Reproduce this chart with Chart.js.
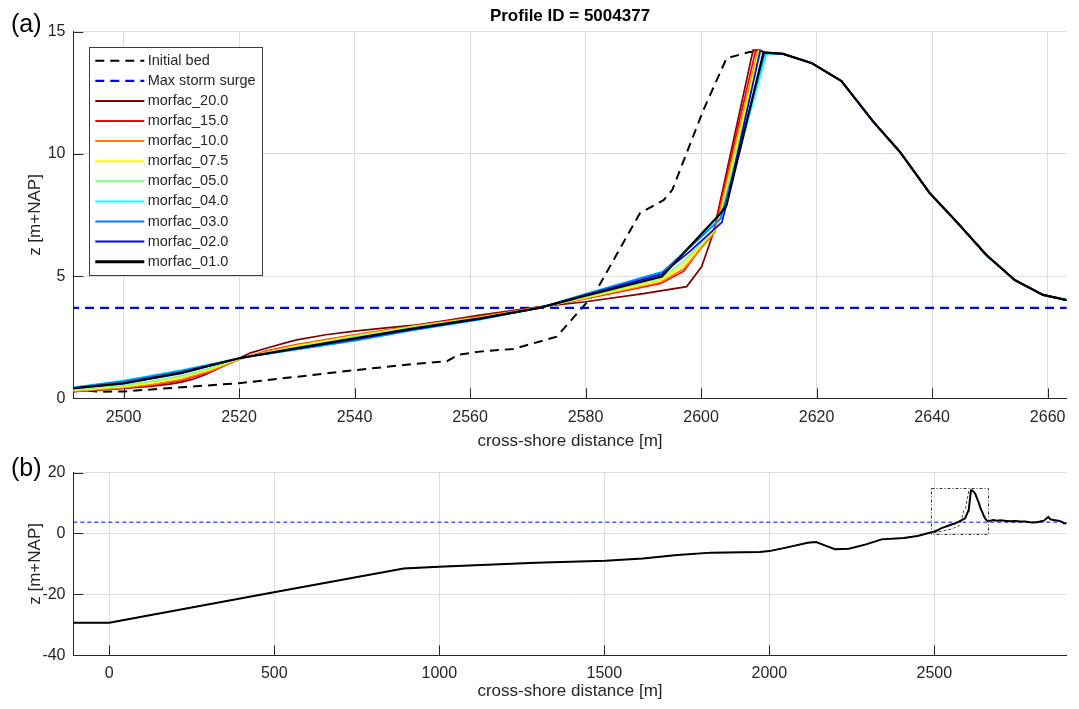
<!DOCTYPE html>
<html><head><meta charset="utf-8">
<script src="https://cdn.jsdelivr.net/npm/chart.js@4.4.1/dist/chart.umd.min.js"></script>
<style>
html,body{margin:0;padding:0;background:#fff;}
#wrap{position:relative;width:1079px;height:709px;overflow:hidden;background:#fff;}
#ca{position:absolute;left:0;top:0;}
#cb{position:absolute;left:0;top:455px;}
</style></head><body>
<div id="wrap"><canvas id="ca" width="1079" height="455"></canvas><canvas id="cb" width="1079" height="254"></canvas></div>
<script>
// ---------- text ----------
const titleText = 'Profile ID = 5004377';
const xTitle = 'cross-shore distance [m]';
const yTitle = 'z [m+NAP]';
const panelLabels = ['(a)', '(b)'];

// ---------- axes ----------
const xRangeA = [2491.3, 2663.3];
const yRangeA = [0, 15];
const xRangeB = [-109, 2901];
const yRangeB = [-40, 20];
const xTicksA = [2500, 2520, 2540, 2560, 2580, 2600, 2620, 2640, 2660];
const yTicksA = [0, 5, 10, 15];
const xTicksB = [0, 500, 1000, 1500, 2000, 2500];
const yTicksB = [-40, -20, 0, 20];

// ---------- series ----------
const seriesNames = ['morfac_20.0','morfac_15.0','morfac_10.0','morfac_07.5','morfac_05.0','morfac_04.0','morfac_03.0','morfac_02.0','morfac_01.0'];
const seriesColors = ['#800000','#ff0000','#ff8000','#ffff00','#80ff80','#00ffff','#0080ff','#0000ff','#000000'];

const stormSurge = 3.7;
const surgeX = [-109, 2901];

// initial bed (dune section)
const initX = [2491.3, 2496, 2500, 2510, 2520, 2530, 2540, 2550, 2556, 2558, 2561.7, 2567.5, 2575, 2581.6, 2589.4, 2593.5, 2595, 2600.4, 2604.4, 2608.5, 2611];
const initZ = [0.36, 0.27, 0.28, 0.45, 0.62, 0.88, 1.15, 1.40, 1.52, 1.78, 1.91, 2.02, 2.52, 4.3, 7.57, 8.11, 8.52, 11.8, 13.91, 14.18, 14.15];

// landward (lee) side of the dune, unchanged
const leeX = [2614.2, 2619.2, 2624.3, 2629.8, 2634.4, 2639.6, 2644.2, 2649.4, 2654.3, 2659.2, 2663.3];
const leeZ = [14.09, 13.71, 12.98, 11.32, 10.09, 8.39, 7.23, 5.86, 4.84, 4.23, 4.02];

// final beds per morfac (seaward side up to the crest)
const m20X = [2491.3, 2500, 2505, 2508, 2510, 2512, 2514, 2516, 2518, 2520, 2522, 2525, 2528, 2530, 2535, 2540, 2545, 2550, 2555, 2561.7, 2572, 2580, 2590, 2597.5, 2600.1, 2602.1, 2609.0, 2610.2, 2611];
const m20Z = [0.27, 0.40, 0.50, 0.58, 0.66, 0.78, 0.95, 1.18, 1.42, 1.64, 1.86, 2.07, 2.27, 2.39, 2.60, 2.75, 2.87, 2.98, 3.15, 3.40, 3.74, 3.95, 4.28, 4.57, 5.39, 6.75, 14.25, 14.25, 14.15];
const m15X = [2491.3, 2500, 2505, 2510, 2515, 2520, 2525, 2530, 2540, 2550, 2561.7, 2572, 2580, 2593, 2597, 2602.3, 2609.4, 2610.8];
const m15Z = [0.28, 0.42, 0.54, 0.72, 1.08, 1.60, 1.95, 2.20, 2.60, 2.95, 3.35, 3.72, 4.08, 4.70, 5.20, 6.90, 14.2, 14.15];
const m10X = [2491.3, 2500, 2505, 2510, 2515, 2520, 2525, 2530, 2540, 2550, 2561.7, 2572, 2580, 2593, 2597, 2602.4, 2609.8, 2611];
const m10Z = [0.29, 0.44, 0.57, 0.77, 1.12, 1.60, 1.93, 2.18, 2.59, 2.94, 3.33, 3.72, 4.10, 4.75, 5.30, 6.80, 14.2, 14.15];
const m075X = [2491.3, 2500, 2505, 2510, 2515, 2520, 2530, 2540, 2550, 2561.7, 2572, 2580, 2593, 2597, 2602.8, 2610.0, 2611];
const m075Z = [0.32, 0.48, 0.63, 0.85, 1.18, 1.62, 2.15, 2.55, 2.92, 3.30, 3.71, 4.12, 4.82, 5.45, 7.00, 14.2, 14.15];
const m05X = [2491.3, 2500, 2505, 2510, 2515, 2520, 2530, 2540, 2550, 2561.7, 2572, 2580, 2593, 2597, 2603, 2610.3, 2611];
const m05Z = [0.35, 0.53, 0.70, 0.92, 1.24, 1.63, 2.10, 2.52, 2.90, 3.29, 3.70, 4.15, 4.90, 5.60, 7.10, 14.15, 14.15];
const m04X = [2491.3, 2500, 2510, 2520, 2530, 2540, 2550, 2561.7, 2572, 2580, 2593.5, 2598, 2603.5, 2611.3];
const m04Z = [0.45, 0.72, 1.15, 1.64, 2.00, 2.36, 2.78, 3.22, 3.70, 4.28, 5.20, 6.20, 7.40, 14.1];
const m03X = [2491.3, 2500, 2510, 2520, 2530, 2540, 2550, 2561.7, 2572, 2580, 2593.3, 2598, 2603.4, 2611.0];
const m03Z = [0.44, 0.70, 1.12, 1.64, 2.00, 2.36, 2.79, 3.23, 3.70, 4.27, 5.17, 6.15, 7.35, 14.12];
const m02X = [2491.3, 2500, 2510, 2520, 2530, 2540, 2550, 2561.7, 2572, 2580, 2593.2, 2598, 2603.6, 2604.3, 2610.2, 2610.6, 2611];
const m02Z = [0.40, 0.60, 1.02, 1.64, 2.03, 2.42, 2.82, 3.25, 3.70, 4.22, 5.08, 6.00, 7.20, 7.85, 14.2, 14.2, 14.15];
const m01X = [2491.3, 2500, 2510, 2520, 2530, 2540, 2550, 2561.7, 2572, 2580, 2593.2, 2603.3, 2604.4, 2610.8];
const m01Z = [0.41, 0.62, 1.05, 1.64, 2.05, 2.45, 2.85, 3.27, 3.70, 4.20, 4.98, 7.55, 7.90, 14.15];

// full profile: offshore part and back-dune part (panel b)
const offX = [-109, 0, 499, 892, 999, 1293, 1503, 1617, 1721, 1825, 1971, 2000, 2054, 2116, 2142, 2168, 2199, 2241, 2293, 2340, 2407, 2449];
const offZ = [-29.3, -29.3, -19.3, -11.5, -10.9, -9.6, -8.95, -8.2, -7.1, -6.3, -6.1, -5.8, -4.57, -3.05, -2.84, -3.9, -5.2, -5.0, -3.6, -1.95, -1.5, -0.85];
const backX = [2679, 2690, 2700, 2719, 2730, 2745, 2760, 2775, 2790, 2800, 2810, 2820, 2832, 2845, 2852, 2861, 2876, 2885, 2893, 2901];
const backZ = [4.4, 4.2, 4.3, 4.1, 4.0, 4.1, 3.9, 3.9, 3.7, 3.6, 3.7, 3.9, 4.2, 5.4, 4.6, 4.4, 4.2, 3.9, 3.3, 3.4];

const finalXs = [m20X, m15X, m10X, m075X, m05X, m04X, m03X, m02X, m01X];
const finalZs = [m20Z, m15Z, m10Z, m075Z, m05Z, m04Z, m03Z, m02Z, m01Z];

// ---------- helpers ----------
const pts = (xs, zs) => xs.map((x, i) => ({x: x, y: zs[i]}));
const FONT = '"Liberation Sans", Arial, Helvetica, sans-serif';
const TXT = '#262626';
Chart.defaults.font.family = FONT;
Chart.defaults.color = TXT;

const inTicks = {
  id: 'inTicks',
  afterDraw(chart) {
    const {ctx, chartArea: ca, scales: {x, y}} = chart;
    ctx.save();
    ctx.strokeStyle = TXT; ctx.lineWidth = 1; ctx.setLineDash([]);
    ctx.beginPath();
    x.ticks.forEach(t => { const px = Math.round(x.getPixelForValue(t.value)) + 0.5; ctx.moveTo(px, ca.bottom); ctx.lineTo(px, ca.bottom - 10); });
    y.ticks.forEach(t => { const py = Math.round(y.getPixelForValue(t.value)) + 0.5; ctx.moveTo(ca.left, py); ctx.lineTo(ca.left + 10, py); });
    ctx.stroke();
    ctx.restore();
  }
};

const panelLabel = {
  id: 'panelLabel',
  afterDraw(chart, args, opts) {
    const ctx = chart.ctx;
    ctx.save();
    ctx.font = '25px ' + FONT; ctx.fillStyle = '#000'; ctx.textAlign = 'left'; ctx.textBaseline = 'alphabetic';
    ctx.fillText(opts.text, opts.x, opts.y);
    ctx.restore();
  }
};

const boxLegend = {
  id: 'boxLegend',
  afterDatasetsDraw(chart) {
    const {ctx, chartArea: ca} = chart;
    const ds = chart.data.datasets;
    const left = ca.left + 16, top = ca.top + 15.3, w = 173, h = 228, rowH = 20.1;
    ctx.save();
    ctx.fillStyle = '#fff'; ctx.fillRect(left, top, w, h);
    ctx.strokeStyle = '#3c3c3c'; ctx.lineWidth = 1; ctx.setLineDash([]);
    ctx.strokeRect(Math.round(left) + 0.5, Math.round(top) + 0.5, w, h);
    ds.forEach((d, i) => {
      const cy = top + 13.7 + i * rowH;
      ctx.beginPath();
      ctx.setLineDash(d.borderDash || []);
      ctx.strokeStyle = d.borderColor; ctx.lineWidth = d.legendWidth || d.borderWidth;
      ctx.moveTo(left + 6, cy); ctx.lineTo(left + 55, cy); ctx.stroke();
      ctx.setLineDash([]);
      ctx.fillStyle = TXT; ctx.font = '14.5px ' + FONT; ctx.textBaseline = 'middle'; ctx.textAlign = 'left';
      ctx.fillText(d.label, left + 58.4, cy);
    });
    ctx.restore();
  }
};

const zoomBox = {
  id: 'zoomBox',
  afterDatasetsDraw(chart) {
    const {ctx, scales: {x, y}} = chart;
    const x0 = x.getPixelForValue(xRangeA[0]), x1 = x.getPixelForValue(xRangeA[1]);
    const y0 = y.getPixelForValue(yRangeA[0]), y1 = y.getPixelForValue(yRangeA[1]);
    ctx.save();
    ctx.strokeStyle = '#333'; ctx.lineWidth = 1; ctx.setLineDash([3, 2, 1, 2]);
    ctx.strokeRect(Math.round(x0) + 0.5, Math.round(y1) + 0.5, Math.round(x1 - x0), Math.round(y0 - y1));
    ctx.restore();
  }
};

function axisOpts(range, ticks, fixedSize, isX, tickPad, titlePad) {
  const o = {
    type: 'linear', min: range[0], max: range[1],
    afterBuildTicks: s => { s.ticks = ticks.map(v => ({value: v})); },
    grid: {color: '#dedede', lineWidth: 1, drawTicks: false},
    border: {display: true, color: TXT, width: 1},
    ticks: {font: {size: 16}, color: TXT, padding: tickPad, maxRotation: 0, autoSkip: false, callback: v => String(v)},
    title: {display: true, text: isX ? xTitle : yTitle, font: {size: 17}, color: TXT, padding: titlePad}
  };
  if (isX) o.afterFit = s => { s.height = fixedSize; };
  else o.afterFit = s => { s.width = fixedSize; };
  return o;
}

// ---------- chart (a) ----------
const dsA = [
  {label: 'Initial bed', data: pts(initX.concat(leeX), initZ.concat(leeZ)), borderColor: '#000', borderWidth: 2, borderDash: [9, 6], order: 11},
  {label: 'Max storm surge', data: pts(surgeX, [stormSurge, stormSurge]), borderColor: '#0000ff', borderWidth: 2.2, borderDash: [9, 6], order: 10}
];
seriesNames.forEach((n, i) => {
  dsA.push({label: n, data: pts(finalXs[i].concat(leeX), finalZs[i].concat(leeZ)),
    borderColor: seriesColors[i], borderWidth: i === 8 ? 2.2 : 1.7, legendWidth: i === 8 ? 3 : 2, order: 9 - i});
});

new Chart(document.getElementById('ca'), {
  type: 'line',
  data: {datasets: dsA},
  options: {
    responsive: false, animation: false, devicePixelRatio: 1,
    elements: {point: {radius: 0, hoverRadius: 0}, line: {tension: 0, fill: false}},
    layout: {padding: {top: 0, left: 0, right: 12.3, bottom: 0}},
    plugins: {
      legend: {display: false}, tooltip: {enabled: false},
      title: {display: true, text: titleText, fullSize: false, color: '#000', font: {size: 17, weight: 'bold'}, padding: {top: 5.8, bottom: 5.5}},
      panelLabel: {text: panelLabels[0], x: 11, y: 31.5}
    },
    scales: {
      x: axisOpts(xRangeA, xTicksA, 455 - 398.3, true, 10, {top: 0, bottom: 3.8}),
      y: axisOpts(yRangeA, yTicksA, 73.3, false, 7.8, {top: 25.3, bottom: 0})
    }
  },
  plugins: [inTicks, boxLegend, panelLabel]
});

// ---------- chart (b) ----------
const dsB = [
  {label: 'Initial bed', data: pts(offX.concat(initX, leeX, backX), offZ.concat(initZ, leeZ, backZ)), borderColor: '#444', borderWidth: 1, borderDash: [3, 2], order: 3},
  {label: 'Max storm surge', data: pts(surgeX, [stormSurge, stormSurge]), borderColor: '#0000ff', borderWidth: 1, borderDash: [4, 3], order: 2},
  {label: seriesNames[8], data: pts(offX.concat(m01X, leeX, backX), offZ.concat(m01Z, leeZ, backZ)), borderColor: '#000', borderWidth: 2, order: 1}
];

new Chart(document.getElementById('cb'), {
  type: 'line',
  data: {datasets: dsB},
  options: {
    responsive: false, animation: false, devicePixelRatio: 1,
    elements: {point: {radius: 0, hoverRadius: 0}, line: {tension: 0, fill: false}},
    layout: {padding: {top: 17.5, left: 0, right: 12.3, bottom: 0}},
    plugins: {
      legend: {display: false}, tooltip: {enabled: false}, title: {display: false},
      panelLabel: {text: panelLabels[1], x: 11, y: 20.5}
    },
    scales: {
      x: axisOpts(xRangeB, xTicksB, 254 - 200.3, true, 9, {top: 0, bottom: 7.8}),
      y: axisOpts(yRangeB, yTicksB, 73.3, false, 7.8, {top: 25.3, bottom: 0})
    }
  },
  plugins: [inTicks, zoomBox, panelLabel]
});
</script>
</body></html>
